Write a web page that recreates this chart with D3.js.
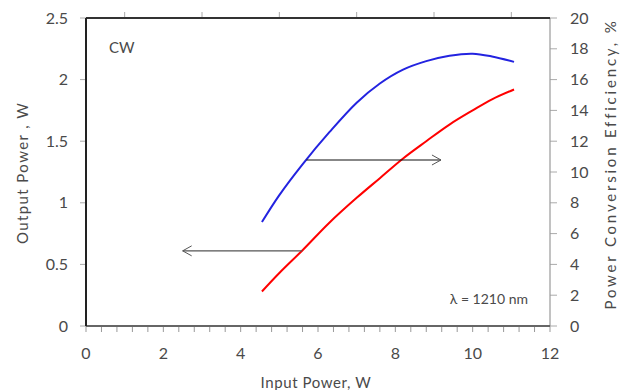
<!DOCTYPE html>
<html>
<head>
<meta charset="utf-8">
<script src="https://cdn.jsdelivr.net/npm/d3@7"></script>
<style>
  body { margin: 0; background: #fff; }
  text { font-family: Lato, "Open Sans", sans-serif; fill: #4a4a4a; }
</style>
</head>
<body>
<div id="chart"></div>
<script>
// data
const inputPower = [4.55, 5.0, 5.6, 6.3, 7.0, 7.6, 8.2, 8.8, 9.4, 10.0, 10.5, 11.07];
const outputPower = [0.28, 0.43, 0.615, 0.84, 1.04, 1.2, 1.36, 1.5, 1.635, 1.75, 1.84, 1.92];
const efficiency = [6.75, 8.5, 10.5, 12.6, 14.5, 15.75, 16.65, 17.2, 17.55, 17.68, 17.5, 17.15];
const xTicks = [0, 2, 4, 6, 8, 10, 12];
const yLeftTicks = [0, 0.5, 1, 1.5, 2, 2.5];
const yRightTicks = [0, 2, 4, 6, 8, 10, 12, 14, 16, 18, 20];

const W = 626, H = 390;
const margin = {left: 86, top: 18, right: 76, bottom: 64};
const width = W - margin.left - margin.right;
const height = H - margin.top - margin.bottom;

const svg = d3.select('#chart').append('svg')
  .attr('width', W)
  .attr('height', H);

const x = d3.scaleLinear().domain([0, 12]).range([0, width]);
const yL = d3.scaleLinear().domain([0, 2.5]).range([height, 0]);
const yR = d3.scaleLinear().domain([0, 20]).range([height, 0]);

const g = svg.append('g')
  .attr('transform', 'translate(' + margin.left + ',' + margin.top + ')');

// minor ticks on bottom (every 0.4) and top
const bottomMinor = d3.range(0, 12.001, 0.4);
g.selectAll('.btick').data(bottomMinor).enter().append('line')
  .attr('x1', d => x(d)).attr('x2', d => x(d))
  .attr('y1', height).attr('y2', height + 6)
  .attr('stroke', '#999').attr('stroke-width', 1);

g.selectAll('.ttick').data([1, 3, 5, 7, 9, 11]).enter().append('line')
  .attr('x1', d => x(d)).attr('x2', d => x(d))
  .attr('y1', 0).attr('y2', -6)
  .attr('stroke', '#aaa').attr('stroke-width', 1);

// left ticks + labels
g.selectAll('.ltick').data(yLeftTicks).enter().append('line')
  .attr('x1', -6).attr('x2', 0)
  .attr('y1', d => yL(d)).attr('y2', d => yL(d))
  .attr('stroke', '#aaa');
g.selectAll('.llab').data(yLeftTicks).enter().append('text')
  .attr('x', -18).attr('y', d => yL(d))
  .attr('dy', '0.35em')
  .attr('text-anchor', 'end')
  .style('font-size', '16px')
  .text(d => d);

// right ticks + labels
g.selectAll('.rtick').data(yRightTicks).enter().append('line')
  .attr('x1', width).attr('x2', width + 7)
  .attr('y1', d => yR(d)).attr('y2', d => yR(d))
  .attr('stroke', '#aaa');
g.selectAll('.rlab').data(yRightTicks).enter().append('text')
  .attr('x', width + 20).attr('y', d => yR(d))
  .attr('dy', '0.35em')
  .attr('text-anchor', 'start')
  .style('font-size', '16px')
  .text(d => d);

// bottom labels
g.selectAll('.xlab').data(xTicks).enter().append('text')
  .attr('x', d => x(d)).attr('y', height + 27)
  .attr('dy', '0.35em')
  .attr('text-anchor', 'middle')
  .style('font-size', '16px')
  .text(d => d);

// frame
g.append('line').attr('x1', width).attr('x2', width).attr('y1', 0).attr('y2', height)
  .attr('stroke', '#999').attr('stroke-width', 1.2);
g.append('line').attr('x1', 0).attr('x2', width).attr('y1', height).attr('y2', height)
  .attr('stroke', '#666').attr('stroke-width', 2.2);
g.append('line').attr('x1', 0).attr('x2', width).attr('y1', 0).attr('y2', 0)
  .attr('stroke', '#333').attr('stroke-width', 2);
g.append('line').attr('x1', 0).attr('x2', 0).attr('y1', 0).attr('y2', height)
  .attr('stroke', '#222').attr('stroke-width', 2);

// curves
const redLine = d3.line()
  .x((d, i) => x(inputPower[i]))
  .y(d => yL(d))
  .curve(d3.curveCatmullRom);
const blueLine = d3.line()
  .x((d, i) => x(inputPower[i]))
  .y(d => yR(d))
  .curve(d3.curveCatmullRom);

g.append('path').datum(outputPower)
  .attr('d', redLine)
  .attr('fill', 'none').attr('stroke', '#ff0000').attr('stroke-width', 2);
g.append('path').datum(efficiency)
  .attr('d', blueLine)
  .attr('fill', 'none').attr('stroke', '#2323e0').attr('stroke-width', 2);

// arrows
function arrow(x1, x2, yy, color) {
  g.append('line')
    .attr('x1', x(x1)).attr('x2', x(x2))
    .attr('y1', yy).attr('y2', yy)
    .attr('stroke', color).attr('stroke-width', 1.2);
  const dir = x2 > x1 ? -1 : 1;
  const tip = x(x2);
  g.append('path')
    .attr('d', 'M' + (tip + dir * 9) + ',' + (yy - 5) + 'L' + tip + ',' + yy + 'L' + (tip + dir * 9) + ',' + (yy + 5))
    .attr('fill', 'none').attr('stroke', '#555').attr('stroke-width', 1);
}
arrow(5.59, 2.5, yL(0.61), '#555');
arrow(5.7, 9.18, yR(10.78), '#111');

// annotations
g.append('text').attr('x', 23).attr('y', 35)
  .style('font-size', '15px').text('CW');
g.append('text').attr('x', width - 22).attr('y', 286)
  .attr('text-anchor', 'end')
  .style('font-size', '14px').text('λ = 1210 nm');

// axis titles
svg.append('text')
  .attr('x', margin.left + width / 2 - 2).attr('y', 383)
  .attr('dy', '0.35em')
  .attr('text-anchor', 'middle')
  .style('font-size', '15px')
  .style('letter-spacing', '0.6px')
  .text('Input Power, W');
svg.append('text')
  .attr('transform', 'translate(23,173) rotate(-90)')
  .attr('dy', '0.35em')
  .attr('text-anchor', 'middle')
  .style('font-size', '15px')
  .style('letter-spacing', '1.4px')
  .text('Output Power , W');
svg.append('text')
  .attr('transform', 'translate(611,164) rotate(-90)')
  .attr('dy', '0.35em')
  .attr('text-anchor', 'middle')
  .style('font-size', '15px')
  .style('letter-spacing', '2.8px')
  .text('Power Conversion Efficiency, %');
</script>
</body>
</html>
